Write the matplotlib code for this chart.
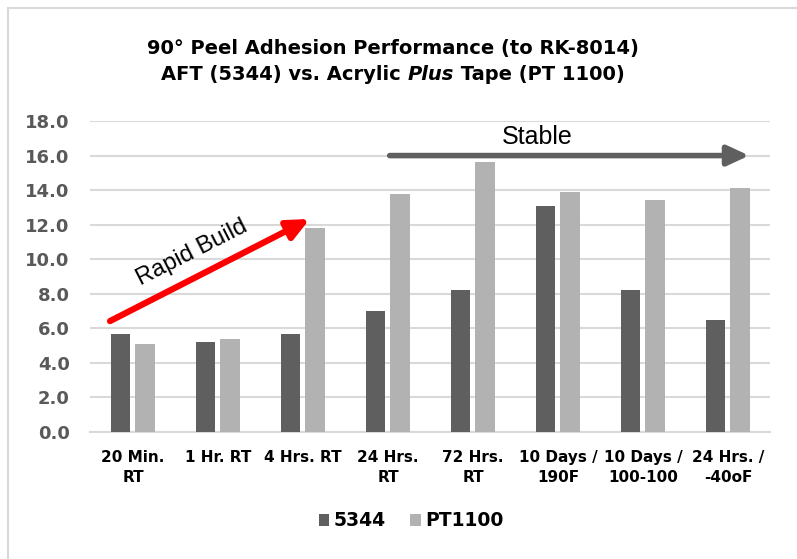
import matplotlib
matplotlib.use('Agg')
import matplotlib.pyplot as plt
import numpy as np
from matplotlib.patches import Rectangle

plt.rcParams['font.family'] = ['DejaVu Sans']

categories = ['20 Min.\nRT', '1 Hr. RT', '4 Hrs. RT', '24 Hrs.\nRT', '72 Hrs.\nRT',
              '10 Days /\n190F', '10 Days /\n100-100', '24 Hrs. /\n-40oF']
s5344 = [5.7, 5.2, 5.7, 7.0, 8.2, 13.1, 8.2, 6.5]
pt1100 = [5.1, 5.4, 11.8, 13.8, 15.6, 13.9, 13.4, 14.1]
yticks = [0, 2, 4, 6, 8, 10, 12, 14, 16, 18]

dark = '#5f5f5f'
light = '#b2b2b2'
grid = '#d9d9d9'
txt = '#595959'

fig = plt.figure(figsize=(7.97, 5.59), dpi=100)
ax = fig.add_axes([0.1135, 0.2272, 0.8532, 0.5563])

x = np.arange(len(categories))
w = 0.225
off = 0.142
ax.bar(x - off, s5344, w, color=dark, label='5344', zorder=3)
ax.bar(x + off, pt1100, w, color=light, label='PT1100', zorder=3)

ax.set_xlim(-0.5, len(categories) - 0.5)
ax.set_ylim(0, 18)
ax.set_yticks(yticks)
ax.set_yticklabels(['%.1f' % v for v in yticks], fontsize=13, fontweight='bold', color=txt)
ax.set_xticks(x)
ax.set_xticklabels(categories, fontsize=11, fontweight='bold', color='black', linespacing=1.45)
ax.tick_params(length=0)
ax.tick_params(axis='y', pad=15)
ax.tick_params(axis='x', pad=13)
ax.yaxis.grid(True, color=grid, linewidth=1.5, zorder=0)
for s in ['top', 'right', 'left']:
    ax.spines[s].set_visible(False)
ax.spines['bottom'].set_color(grid)
ax.spines['bottom'].set_linewidth(1.5)

# title, second line has an italic word in it
tfs = 14
fig.text(0.493, 0.914, '90° Peel Adhesion Performance (to RK-8014)', ha='center', va='center',
         fontsize=tfs, fontweight='bold')
parts = [('AFT (5344) vs. Acrylic ', 'normal'), ('Plus', 'italic'), (' Tape (PT 1100)', 'normal')]
r = fig.canvas.get_renderer()
objs = []
for s, st in parts:
    objs.append(fig.text(0, 0.866, s, ha='left', va='center', fontsize=tfs,
                         fontweight='bold', style=st))
widths = [o.get_window_extent(renderer=r).width for o in objs]
x0 = 0.493 * 797 - sum(widths) / 2
for o, wd in zip(objs, widths):
    o.set_x(x0 / 797)
    x0 += wd

# arrows
ax.annotate('', xy=(2.08, 12.33), xytext=(-0.27, 6.42),
            arrowprops=dict(arrowstyle='-|>,head_length=1.3,head_width=0.6', color='#ff0000', lw=4.5,
                            shrinkA=0, shrinkB=0),
            zorder=5)
ax.text(0.69, 10.36, 'Rapid Build', rotation=27, fontsize=17, ha='center', va='center',
        zorder=5, family='Liberation Sans')
ax.annotate('', xy=(7.25, 16.0), xytext=(3.02, 16.0),
            arrowprops=dict(arrowstyle='-|>,head_length=1.3,head_width=0.6', color=dark, lw=4,
                            shrinkA=0, shrinkB=0),
            zorder=5)
ax.text(4.76, 17.05, 'Stable', fontsize=18, ha='center', va='center', zorder=5,
        family='Liberation Sans')

fig.legend(loc='center', bbox_to_anchor=(0.516, 0.068), ncol=2, frameon=False,
           prop={'weight': 'bold', 'size': 13.5}, handlelength=0.55, handleheight=0.55,
           columnspacing=1.3, handletextpad=0.25)

fig.patches.append(Rectangle((8 / 797, -0.1), 1.2, 1.1 - 8 / 559, transform=fig.transFigure,
                             fill=False, edgecolor='#d9d9d9', linewidth=1.5))

fig.savefig('out.png', dpi=100)
